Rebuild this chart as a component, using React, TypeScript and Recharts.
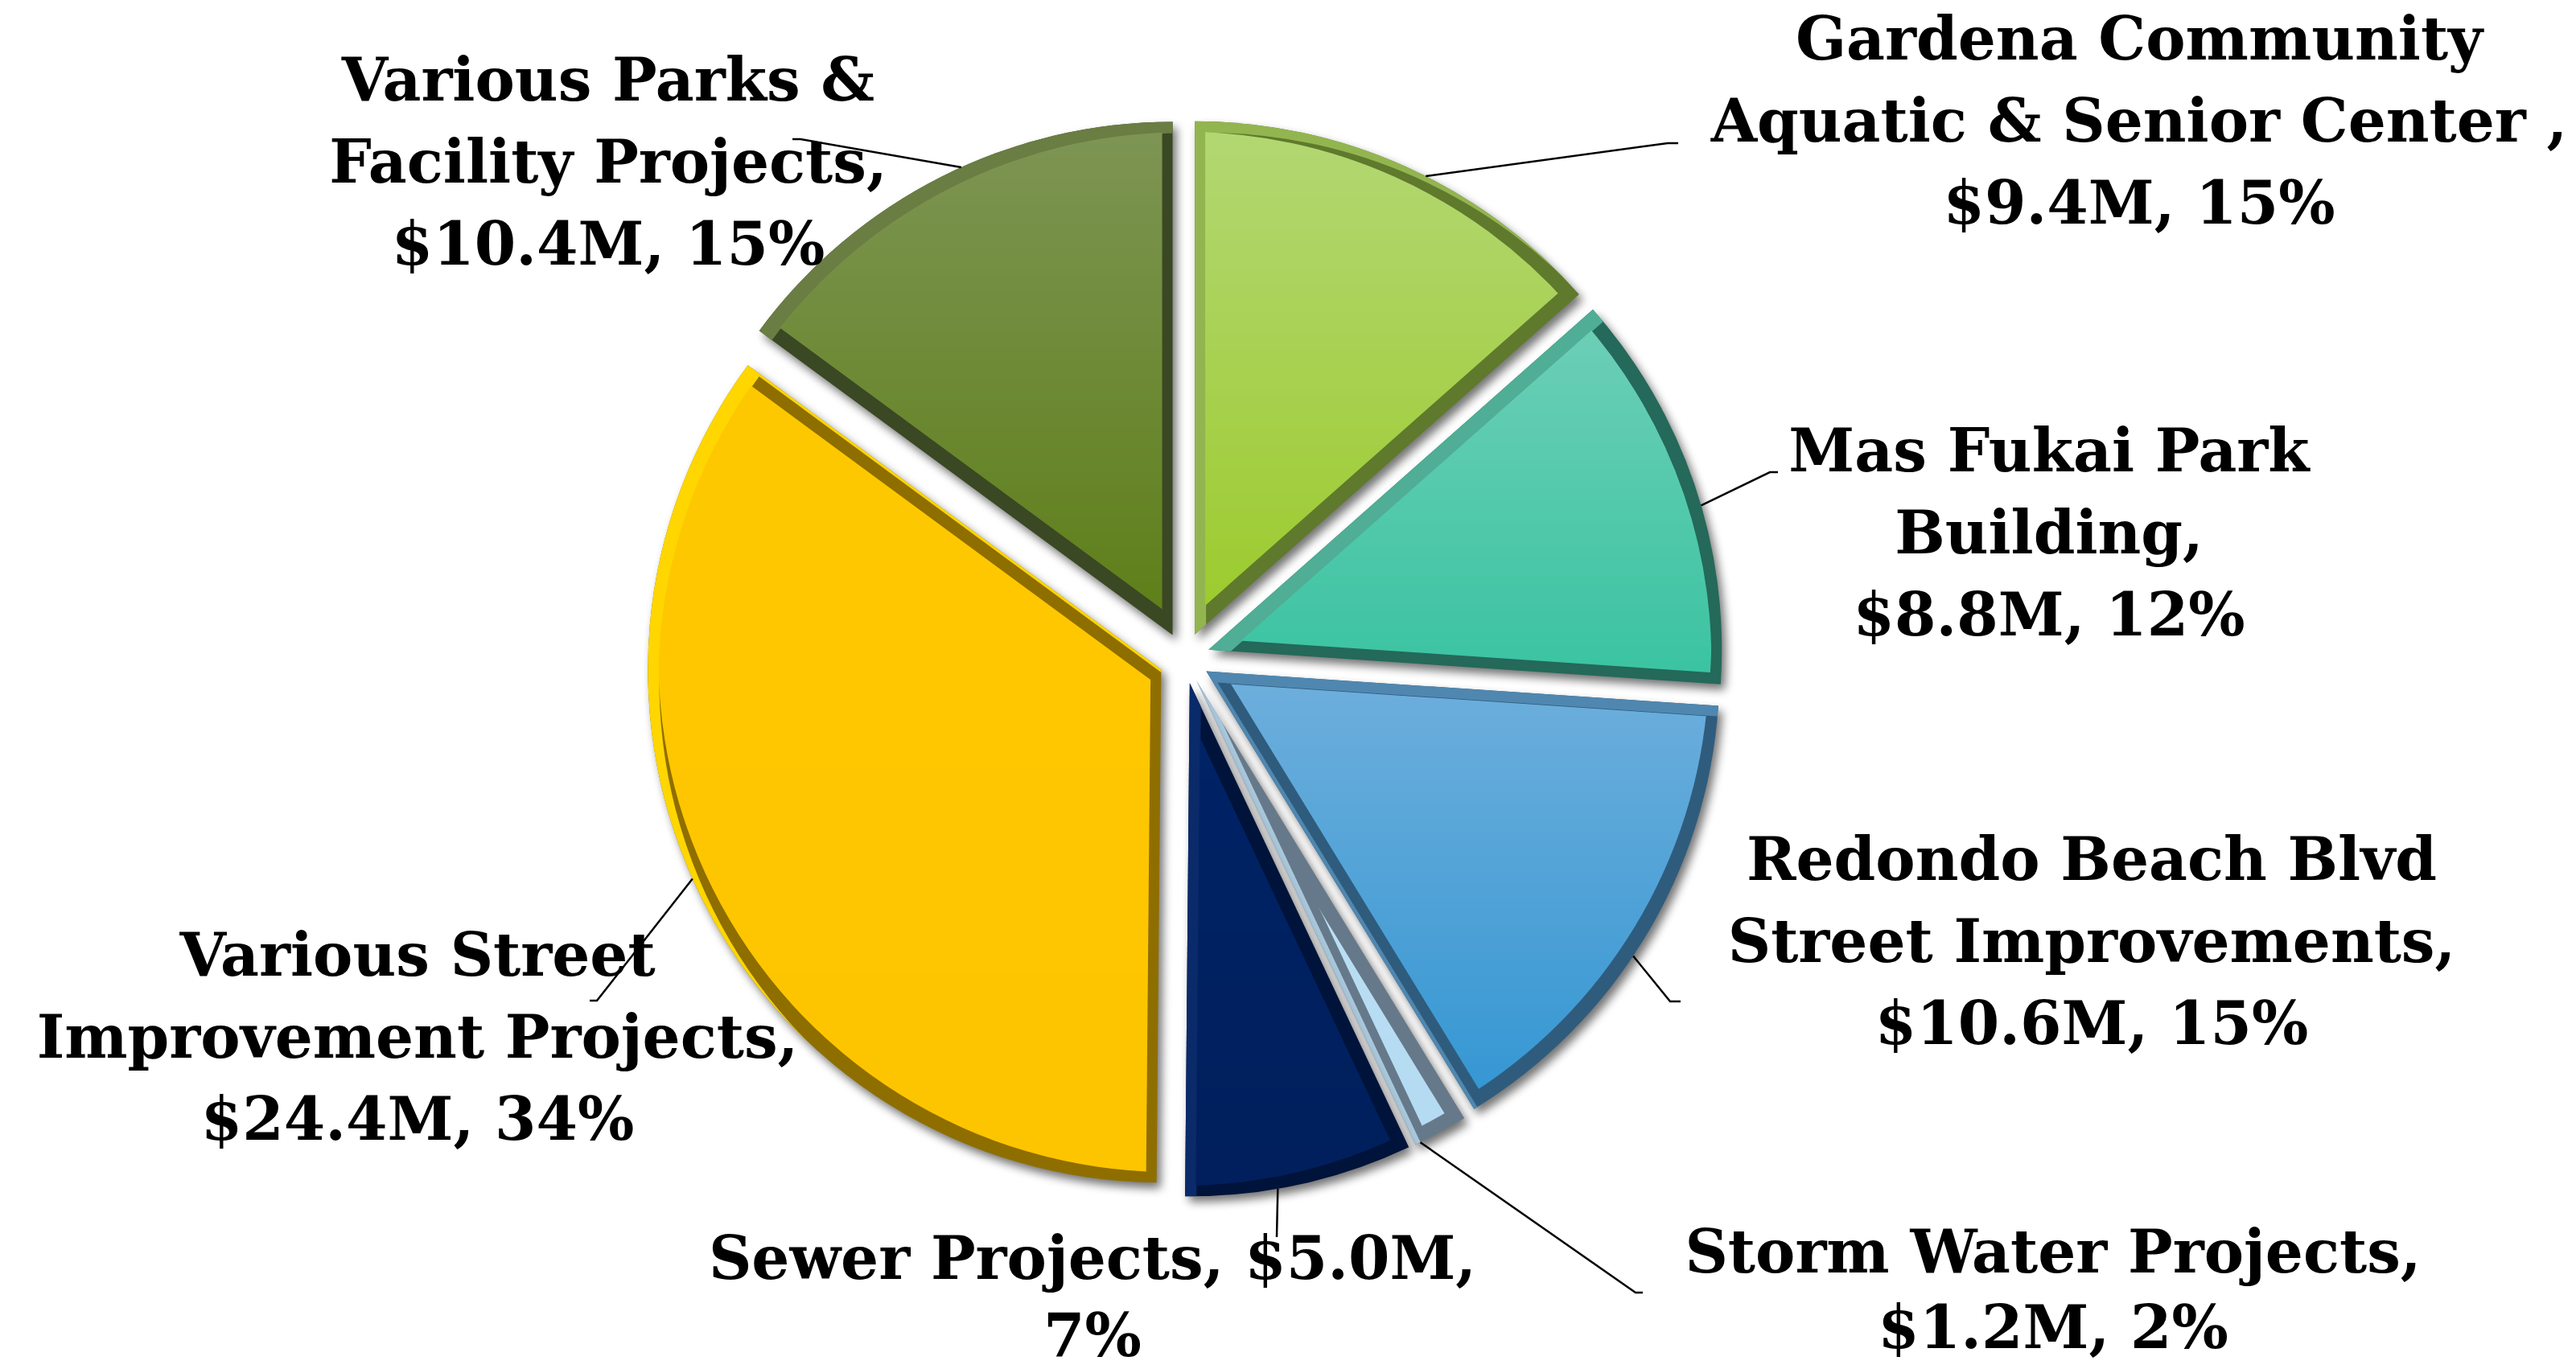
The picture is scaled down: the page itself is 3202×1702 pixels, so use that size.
import { PieChart, Pie, Cell } from 'recharts'

// capital program by project, $ millions (slices drawn clockwise from 12 o'clock)
const categories = [
  'Gardena Community Aquatic & Senior Center',
  'Mas Fukai Park Building',
  'Redondo Beach Blvd Street Improvements',
  'Storm Water Projects',
  'Sewer Projects',
  'Various Street Improvement Projects',
  'Various Parks & Facility Projects',
]
const amounts = [9.4, 8.8, 10.6, 1.2, 5.0, 24.4, 10.4]
// percentages as printed on the source chart
const shares = ['15%', '12%', '15%', '2%', '7%', '34%', '15%']
const nameLines = [
  ['Gardena Community', 'Aquatic & Senior Center ,'],
  ['Mas Fukai Park', 'Building,'],
  ['Redondo Beach Blvd', 'Street Improvements,'],
  ['Storm Water Projects,'],
  ['Sewer Projects,'],
  ['Various Street', 'Improvement Projects,'],
  ['Various Parks &', 'Facility Projects,'],
]

const topFill = ['#b4d876', '#70d0b8', '#70b0dd', '#c2e3f7', '#002468', '#ffc900', '#7f9656']
const bottomFill = ['#9ccb2c', '#3bc4a2', '#3597d3', '#b4dbf2', '#001f5c', '#fdc500', '#5e7f18']
// bevel: dark band (lower right), light band (upper left)
const shadeBand = ['#5f7a2c', '#24695a', '#2f5c7d', '#66798a', '#00133a', '#8f6e00', '#3a4824']
const lightBand = ['#93b550', '#4fae95', '#4f87b0', '#a9c8dc', '#0a2a6a', '#ffd600', '#6a7d43']

// label placement (px)
const labelLayout = [
  { x: 2659, y: 74, lineH: 102, elbow: [2073, 178], tick: 13, inlineAmount: false },
  { x: 2547, y: 586, lineH: 102, elbow: [2200, 587], tick: 10, inlineAmount: false },
  { x: 2600, y: 1094, lineH: 102, elbow: [2076, 1245], tick: 13, inlineAmount: false },
  { x: 2552, y: 1582, lineH: 94, elbow: [2033, 1607], tick: 9, inlineAmount: false },
  { x: 1358, y: 1590, lineH: 96, elbow: [1587, 1538], tick: 0, inlineAmount: true },
  { x: 519, y: 1213, lineH: 102, elbow: [742, 1244], tick: -9, inlineAmount: false },
  { x: 756, y: 125, lineH: 102, elbow: [995, 173], tick: -10, inlineAmount: false },
]

const W = 3202
const H = 1702
const CX = 1472
const CY = 818
const R = 638
const EXPLODE = 32
const LEADER_SHIFT = -2.5
const RAD = Math.PI / 180

const data = categories.map((name, i) => ({ name, value: amounts[i] }))

const total = amounts.reduce((s, v) => s + v, 0)
const midAngles: number[] = []
{
  let start = 90
  amounts.forEach((v) => {
    const sweep = (v / total) * 360
    midAngles.push(start - sweep / 2)
    start -= sweep
  })
}

function labelText(i: number) {
  const amt = `$${amounts[i].toFixed(1)}M,`
  if (labelLayout[i].inlineAmount) {
    const names = nameLines[i].slice()
    names[names.length - 1] = `${names[names.length - 1]} ${amt}`
    return [...names, shares[i]]
  }
  return [...nameLines[i], `${amt} ${shares[i]}`]
}

// eslint-disable-next-line @typescript-eslint/no-explicit-any
const renderLabel = (props: any) => {
  const { cx, cy, midAngle, outerRadius, index } = props
  const lay = labelLayout[index]
  const a = midAngle * RAD
  const la = (midAngle + LEADER_SHIFT) * RAD
  const ox = cx + EXPLODE * Math.cos(a)
  const oy = cy - EXPLODE * Math.sin(a)
  const sx = ox + outerRadius * Math.cos(la)
  const sy = oy - outerRadius * Math.sin(la)
  const [ex, ey] = lay.elbow
  const lines = labelText(index)
  return (
    <g>
      <polyline
        points={`${sx},${sy} ${ex},${ey} ${ex + lay.tick},${ey}`}
        fill="none"
        stroke="#000"
        strokeWidth={2.5}
      />
      <text
        x={lay.x}
        y={lay.y}
        textAnchor="middle"
        fontFamily="'DejaVu Serif', serif"
        fontWeight="bold"
        fontSize={74}
        fill="#000"
      >
        {lines.map((l, k) => (
          <tspan key={k} x={lay.x} dy={k === 0 ? 0 : lay.lineH}>
            {l}
          </tspan>
        ))}
      </text>
    </g>
  )
}

export default function App() {
  return (
    <div style={{ position: 'absolute', left: 0, top: 0, width: W, height: H, background: '#fff' }}>
      <PieChart width={W} height={H} margin={{ top: 0, right: 0, bottom: 0, left: 0 }}>
        <defs>
          {amounts.map((_, i) => (
            <linearGradient key={`g${i}`} id={`grad-${i}`} x1="0" y1="0" x2="0" y2="1">
              <stop offset="0%" stopColor={topFill[i]} />
              <stop offset="100%" stopColor={bottomFill[i]} />
            </linearGradient>
          ))}
          {amounts.map((_, i) => (
            <filter
              key={`f${i}`}
              id={`bevel-${i}`}
              filterUnits="userSpaceOnUse"
              x={-500}
              y={-500}
              width={4200}
              height={2700}
              colorInterpolationFilters="sRGB"
            >
              <feGaussianBlur in="SourceAlpha" stdDeviation="6" result="blur" />
              <feOffset in="blur" dx="5" dy="7" result="offBlur" />
              <feComponentTransfer in="offBlur" result="shadow">
                <feFuncA type="linear" slope="0.55" />
              </feComponentTransfer>
              <feFlood floodColor={shadeBand[i]} result="shadeFill" />
              <feComposite in="shadeFill" in2="SourceAlpha" operator="in" result="shade" />
              <feOffset in="SourceAlpha" dx="14" dy="14" result="shifted" />
              <feComposite in="SourceAlpha" in2="shifted" operator="out" result="lit" />
              <feFlood floodColor={lightBand[i]} result="lightFill" />
              <feComposite in="lightFill" in2="lit" operator="in" result="light" />
              <feMorphology in="SourceGraphic" operator="erode" radius="13" result="inner" />
              <feMerge>
                <feMergeNode in="shadow" />
                <feMergeNode in="shade" />
                <feMergeNode in="light" />
                <feMergeNode in="inner" />
              </feMerge>
            </filter>
          ))}
        </defs>
        <Pie
          data={data}
          dataKey="value"
          nameKey="name"
          cx={CX}
          cy={CY}
          outerRadius={R}
          startAngle={90}
          endAngle={-270}
          stroke="none"
          label={renderLabel}
          labelLine={false}
          isAnimationActive={false}
        >
          {amounts.map((_, i) => {
            const a = midAngles[i] * RAD
            const dx = EXPLODE * Math.cos(a)
            const dy = -EXPLODE * Math.sin(a)
            return (
              <Cell
                key={i}
                fill={`url(#grad-${i})`}
                filter={`url(#bevel-${i})`}
                transform={`translate(${dx} ${dy})`}
              />
            )
          })}
        </Pie>
      </PieChart>
    </div>
  )
}
